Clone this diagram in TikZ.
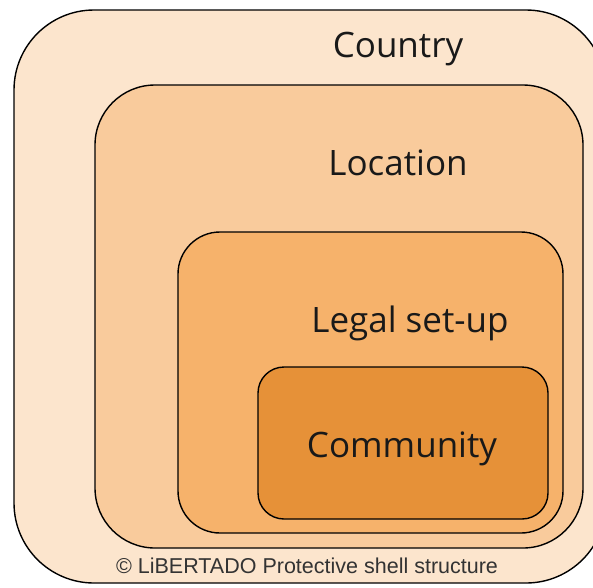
\documentclass[tikz,border=0pt]{standalone}
\usepackage{fontspec}
\setmainfont{Open Sans}
\newfontfamily\captionfont{Liberation Sans}
\definecolor{shellA}{HTML}{FCE5CD}
\definecolor{shellB}{HTML}{F9CB9C}
\definecolor{shellC}{HTML}{F6B26B}
\definecolor{shellD}{HTML}{E69138}
\tikzset{
  shell/.style={draw=black, line width=1.4pt},
  shelltext/.style={anchor=base, inner sep=0pt, font=\fontsize{35}{40}\selectfont, text=black!90},
}
\begin{document}
\begin{tikzpicture}[x=1pt,y=-1pt]
	\useasboundingbox (0,0) rectangle (593,587);
	\clip (0,0) rectangle (593,587);
	\fill [white] (0,0) rectangle (593,587);
	% nested shells
	\draw [shell, fill=shellA, rounded corners=80pt] (14,10) rectangle (606,583);
	\draw [shell, fill=shellB, rounded corners=60pt] (95,85) rectangle (583,548);
	\draw [shell, fill=shellC, rounded corners=42pt] (178,232) rectangle (563,533);
	\draw [shell, fill=shellD, rounded corners=26pt] (258,367) rectangle (548,519);
	% labels
	\node [shelltext] (country) at (398,57) {Country};
	\node [shelltext] (location) at (398,175) {Location};
	\node [shelltext] (legal) at (410,332) {Legal set-up};
	\node [shelltext] (community) at (402,457) {Community};
	\node [anchor=base, inner sep=0pt, font=\captionfont\fontsize{21.5}{24}\selectfont, text=black!80] (credit) at (307,573) {© LiBERTADO Protective shell structure};
\end{tikzpicture}
\end{document}
